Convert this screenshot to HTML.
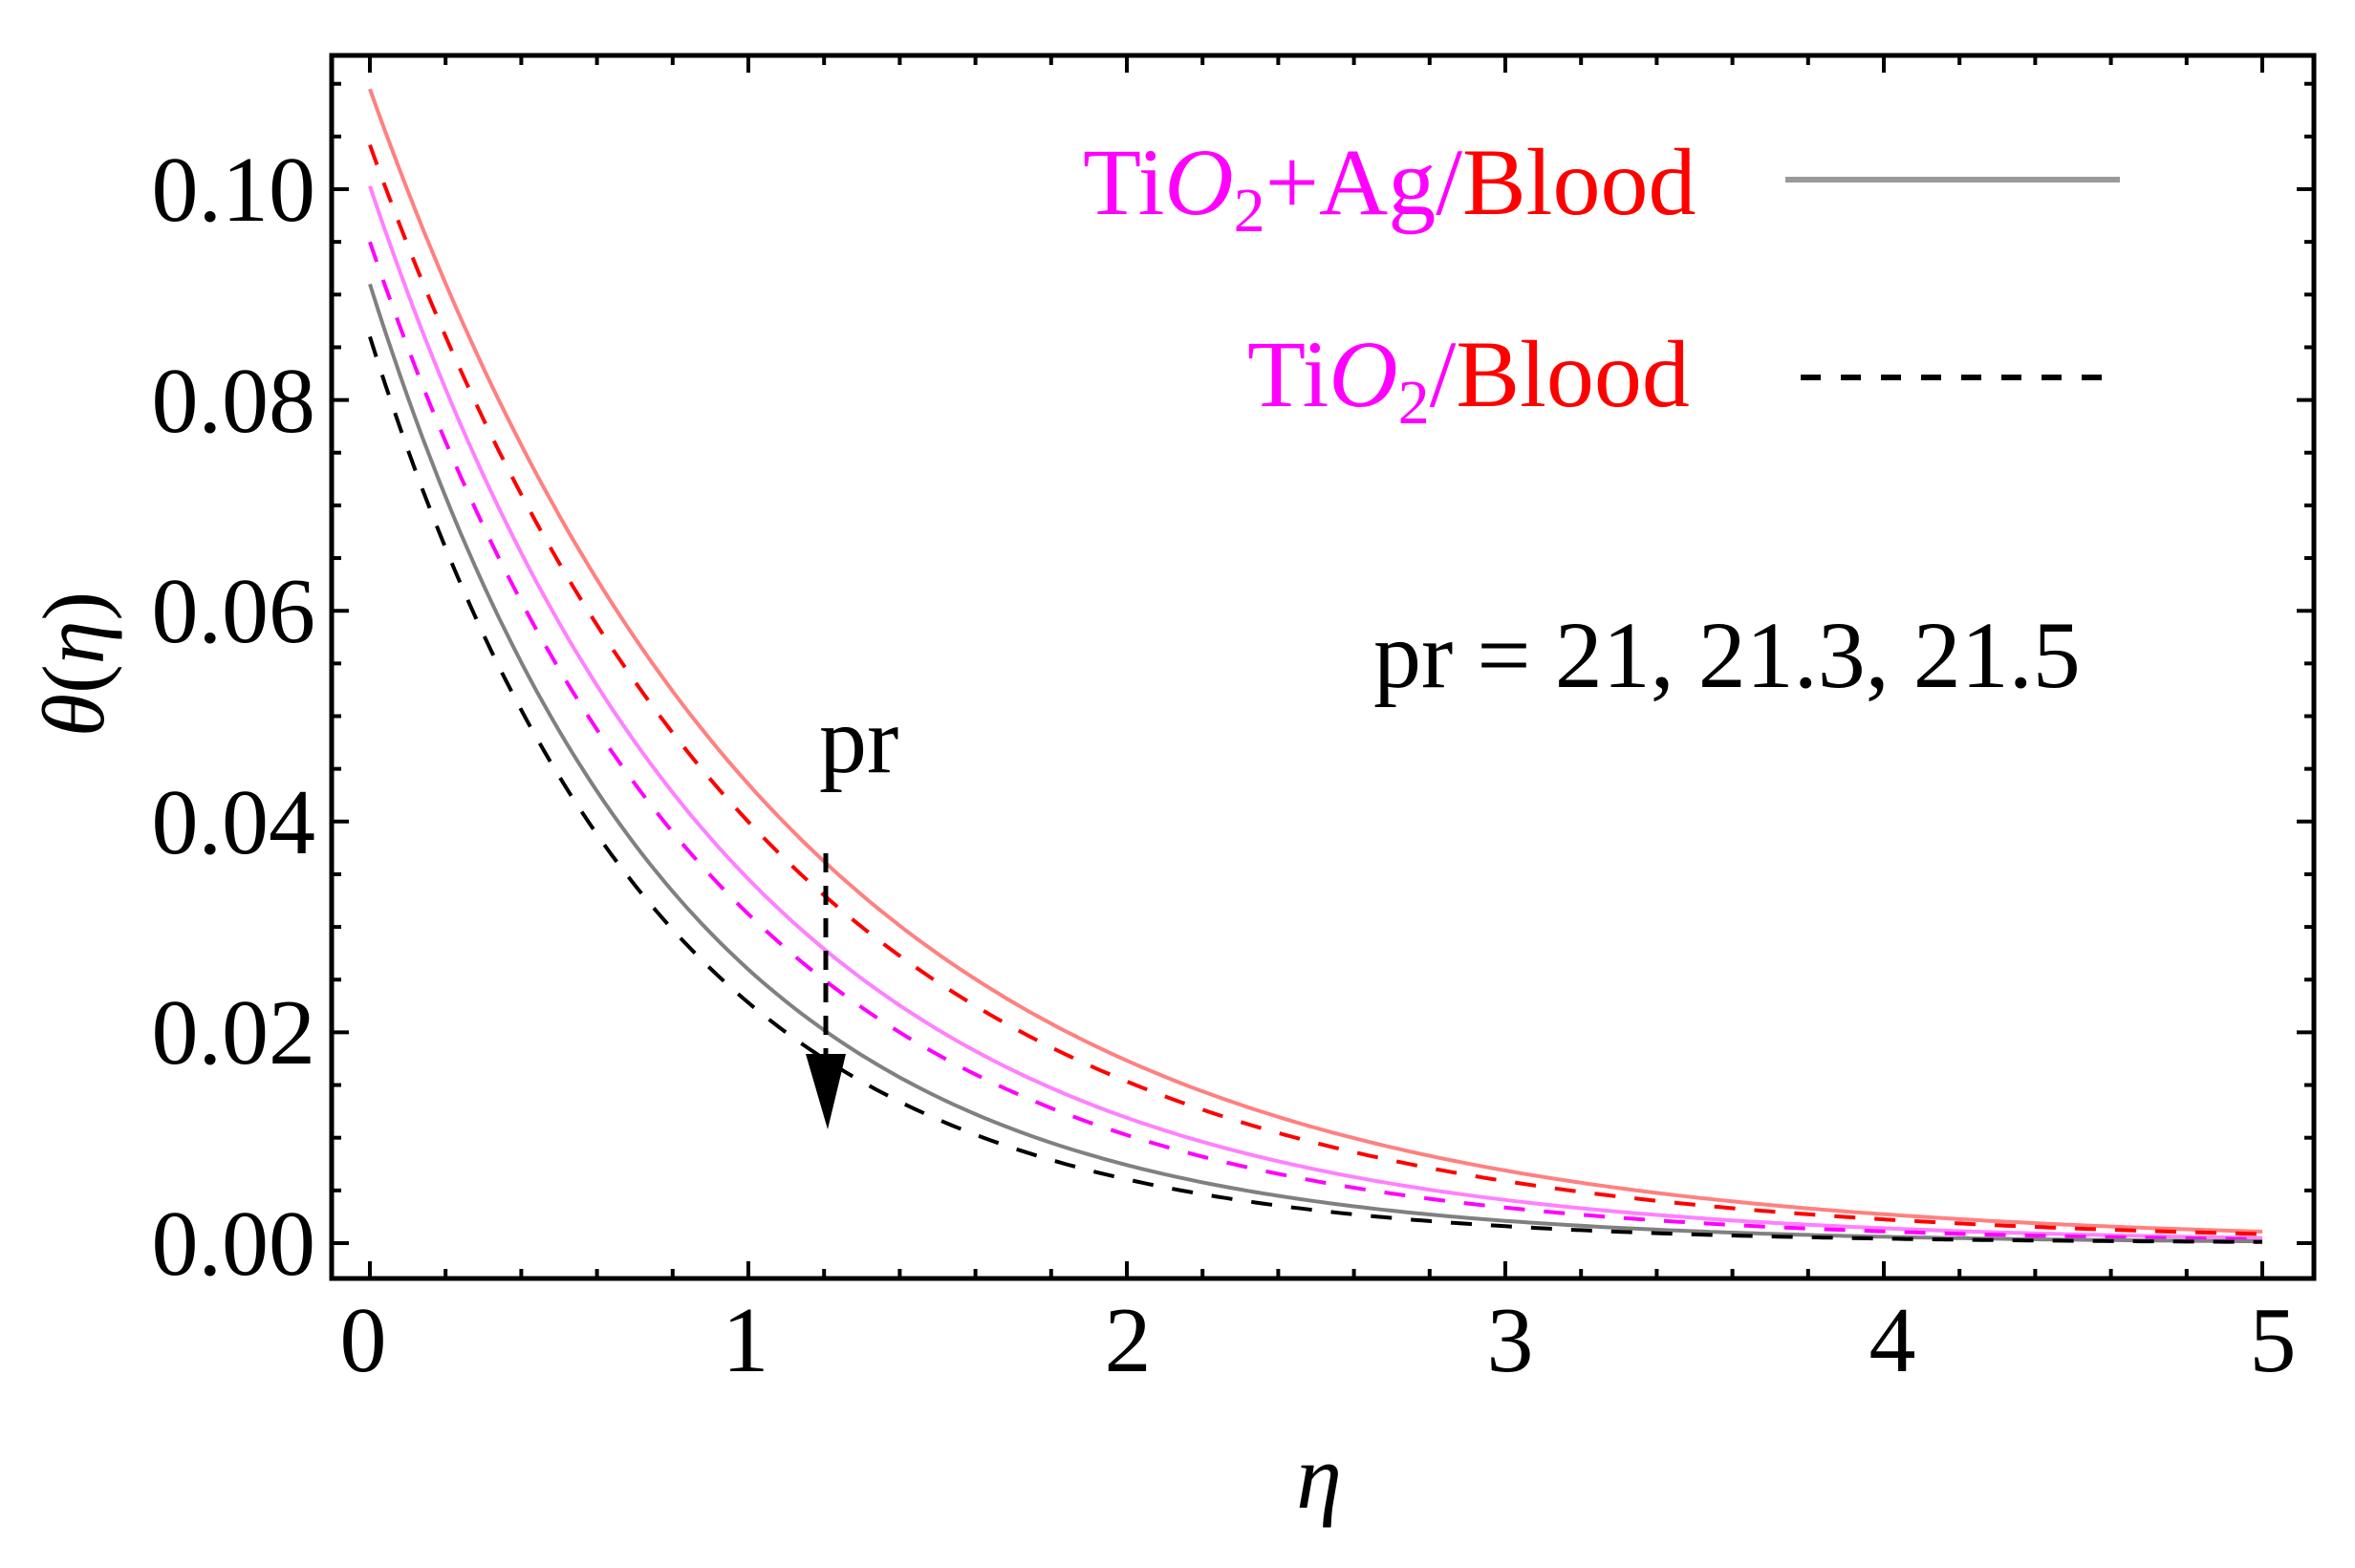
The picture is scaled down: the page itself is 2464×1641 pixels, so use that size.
<!DOCTYPE html>
<html><head><meta charset="utf-8"><style>
html,body{margin:0;padding:0;background:#fff;}
svg{display:block;}
text{font-family:"Liberation Serif",serif;}
</style></head><body>
<svg id="s" width="2464" height="1641" viewBox="0 0 2464 1641" xmlns="http://www.w3.org/2000/svg">
<rect x="0" y="0" width="2464" height="1641" fill="#fff"/>
<g id="curves" fill="none" stroke-width="4"></g>
<g id="ticks" stroke="#000" stroke-width="4"></g>
<rect x="347" y="58" width="2074" height="1280" fill="none" stroke="#000" stroke-width="5"/>
<g font-size="98" fill="#000" text-anchor="end">
<text x="330" y="1334">0.00</text>
<text x="330" y="1113">0.02</text>
<text x="330" y="893">0.04</text>
<text x="330" y="672">0.06</text>
<text x="330" y="452">0.08</text>
<text x="330" y="231">0.10</text>
</g>
<g font-size="98" fill="#000" text-anchor="middle">
<text x="380" y="1435">0</text>
<text x="780" y="1435">1</text>
<text x="1180" y="1435">2</text>
<text x="1580" y="1435">3</text>
<text x="1980" y="1435">4</text>
<text x="2378" y="1435">5</text>
</g>
<text x="1380" y="1578" font-size="96" font-style="italic" text-anchor="middle">η</text>
<text transform="translate(108,695) rotate(-90)" font-size="92" text-anchor="middle"><tspan font-style="italic">θ</tspan>(<tspan font-style="italic">η</tspan>)</text>
<text x="1133" y="224" font-size="100" fill="#ff00ff">Ti<tspan font-style="italic">O</tspan><tspan font-size="66" dy="18">2</tspan><tspan dy="-18">+Ag/</tspan><tspan fill="#ff0000">Blood</tspan></text>
<text x="1305" y="425" font-size="100" fill="#ff00ff">Ti<tspan font-style="italic">O</tspan><tspan font-size="66" dy="18">2</tspan><tspan dy="-18">/</tspan><tspan fill="#ff0000">Blood</tspan></text>
<line x1="1868" y1="188" x2="2218" y2="188" stroke="#999" stroke-width="6"/>
<line x1="1884" y1="395" x2="2212" y2="395" stroke="#000" stroke-width="6" stroke-dasharray="21,21"/>
<text x="1437" y="719" font-size="100" fill="#000">pr = 21, 21.3, 21.5</text>
<text x="857" y="808" font-size="100" fill="#000">pr</text>
<line x1="864" y1="893" x2="864" y2="1105" stroke="#000" stroke-width="5" stroke-dasharray="20,14"/>
<polygon points="843,1103 885,1103 866,1182" fill="#000"/>
</svg>
<script>
(function(){
var NS="http://www.w3.org/2000/svg";
function X(x){return 387+396*x;}
function Y(y){return 1301-11030*y;}
var series=[
 [0.1095,0.922,"#ff8080",null],
 [0.1042,0.958,"#ff0000","22,20"],
 [0.1003,1.066,"#ff80ff",null],
 [0.0950,1.113,"#ff00ff","22,20"],
 [0.0910,1.254,"#808080",null],
 [0.0860,1.327,"#000000","22,20"]
];
var g=document.getElementById("curves");
series.forEach(function(s){
 var d="";
 for(var i=0;i<=250;i++){var x=i*5/250;var y=s[0]*Math.exp(-s[1]*x);
  d+=(i?"L":"M")+X(x).toFixed(1)+","+Y(y).toFixed(1);}
 var p=document.createElementNS(NS,"path");
 p.setAttribute("d",d);p.setAttribute("stroke",s[2]);
 if(s[3])p.setAttribute("stroke-dasharray",s[3]);
 g.appendChild(p);
});
var t=document.getElementById("ticks");
function L(x1,y1,x2,y2){var l=document.createElementNS(NS,"line");
 l.setAttribute("x1",x1);l.setAttribute("y1",y1);l.setAttribute("x2",x2);l.setAttribute("y2",y2);t.appendChild(l);}
for(var i=0;i<=25;i++){var x=X(i*0.2);var len=(i%5==0)?18:10;
 L(x,1338,x,1338-len);L(x,58,x,58+len);}
for(var j=0;j<=22;j++){var y=Y(j*0.005);var len2=(j%4==0)?18:10;
 L(347,y,347+len2,y);L(2421,y,2421-len2,y);}
})();
</script>
</body></html>
